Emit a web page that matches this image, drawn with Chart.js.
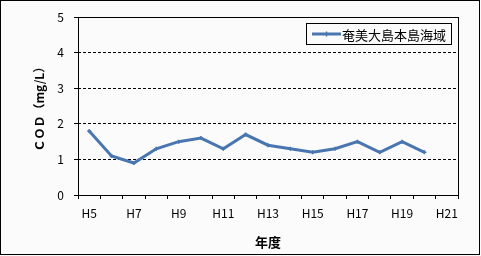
<!DOCTYPE html>
<html>
<head>
<meta charset="utf-8">
<script src="https://cdn.jsdelivr.net/npm/chart.js@4"></script>
<style>
  body { margin: 0; background: #fbfbfb; }
  #wrap { width: 481px; height: 256px; }
</style>
</head>
<body>
<div id="wrap"><canvas id="codChart" width="481" height="256"></canvas></div>
<script>
// 年度 (H5〜H21)
const years = ['H5', 'H6', 'H7', 'H8', 'H9', 'H10', 'H11', 'H12', 'H13', 'H14', 'H15', 'H16', 'H17', 'H18', 'H19', 'H20', 'H21'];
// COD 平均値 (mg/L)
const codValues = [1.8, 1.1, 0.9, 1.3, 1.5, 1.6, 1.3, 1.7, 1.4, 1.3, 1.2, 1.3, 1.5, 1.2, 1.5, 1.2, null];
const seriesName = '奄美大島本島海域';
const yTicks = [0, 1, 2, 3, 4, 5];

const jp = '"Noto Sans CJK JP", "DejaVu Sans", sans-serif';
const lineColor = '#4a76b0';

// 外枠・プロットエリア枠・凡例を描く
const framePlugin = {
    id: 'frame',
    beforeDraw(chart) {
        const ctx = chart.ctx;
        ctx.save();
        ctx.fillStyle = '#fbfbfb';
        ctx.fillRect(0, 0, chart.width, chart.height);
        ctx.restore();
    },
    afterDraw(chart) {
        const ctx = chart.ctx;
        const a = chart.chartArea;
        ctx.save();
        ctx.strokeStyle = '#000';
        ctx.lineWidth = 1;
        ctx.strokeRect(0.5, 0.5, 479, 254);
        ctx.strokeRect(Math.round(a.left) + 0.5, Math.round(a.top) + 0.5,
            Math.round(a.right - a.left), Math.round(a.bottom - a.top));

        // 凡例
        const lx = 306.5, ly = 23.5, lw = 145, lh = 21;
        ctx.fillStyle = '#fbfbfb';
        ctx.fillRect(lx, ly, lw, lh);
        ctx.strokeRect(lx, ly, lw, lh);
        const cy = ly + lh / 2;
        ctx.strokeStyle = lineColor;
        ctx.lineWidth = 3;
        ctx.beginPath();
        ctx.moveTo(312, cy);
        ctx.lineTo(341, cy);
        ctx.stroke();
        ctx.lineWidth = 1.5;
        ctx.beginPath();
        ctx.moveTo(326.5, cy - 2.5);
        ctx.lineTo(326.5, cy + 2.5);
        ctx.stroke();
        ctx.fillStyle = '#000';
        ctx.font = '13px ' + jp;
        ctx.textBaseline = 'middle';
        ctx.fillText(chart.data.datasets[0].label, 342, cy + 1);
        ctx.restore();
    }
};

const ctx = document.getElementById('codChart').getContext('2d');
new Chart(ctx, {
    type: 'line',
    data: {
        labels: years,
        datasets: [{
            label: seriesName,
            data: codValues,
            borderColor: lineColor,
            backgroundColor: lineColor,
            borderWidth: 3,
            pointStyle: 'cross',
            pointRadius: 2,
            pointBorderWidth: 1.5,
            pointHoverRadius: 2,
            tension: 0,
            spanGaps: false
        }]
    },
    options: {
        responsive: false,
        animation: false,
        events: [],
        layout: { padding: { left: 0, top: 15, right: 23, bottom: 0 } },
        plugins: {
            legend: { display: false },
            tooltip: { enabled: false }
        },
        scales: {
            x: {
                offset: true,
                afterFit: s => { s.height = 61; },
                grid: {
                    offset: true,
                    drawOnChartArea: false,
                    color: '#000',
                    tickLength: 4
                },
                border: { display: false },
                ticks: {
                    autoSkip: false,
                    maxRotation: 0,
                    padding: 7,
                    color: '#000',
                    font: { family: jp, size: 12 },
                    callback: function (v, i) { return i % 2 === 0 ? years[i] : ''; }
                },
                title: {
                    display: true,
                    text: '年度',
                    color: '#000',
                    font: { family: jp, size: 13, weight: 'bold' },
                    padding: { top: 0, bottom: 6 }
                }
            },
            y: {
                min: 0,
                max: 5,
                afterFit: s => { s.width = 78; },
                afterBuildTicks: s => { s.ticks = yTicks.map(v => ({ value: v })); },
                grid: {
                    color: '#000',
                    lineWidth: 1,
                    tickLength: 4
                },
                border: { display: false, dash: [3, 2] },
                ticks: {
                    padding: 10,
                    color: '#000',
                    font: { family: jp, size: 12 }
                },
                title: {
                    display: true,
                    text: 'ＣＯＤ（mg/L）',
                    color: '#000',
                    font: { family: jp, size: 12, weight: 'bold' },
                    padding: { top: 32, bottom: 0 }
                }
            }
        }
    },
    plugins: [framePlugin]
});
</script>
</body>
</html>
